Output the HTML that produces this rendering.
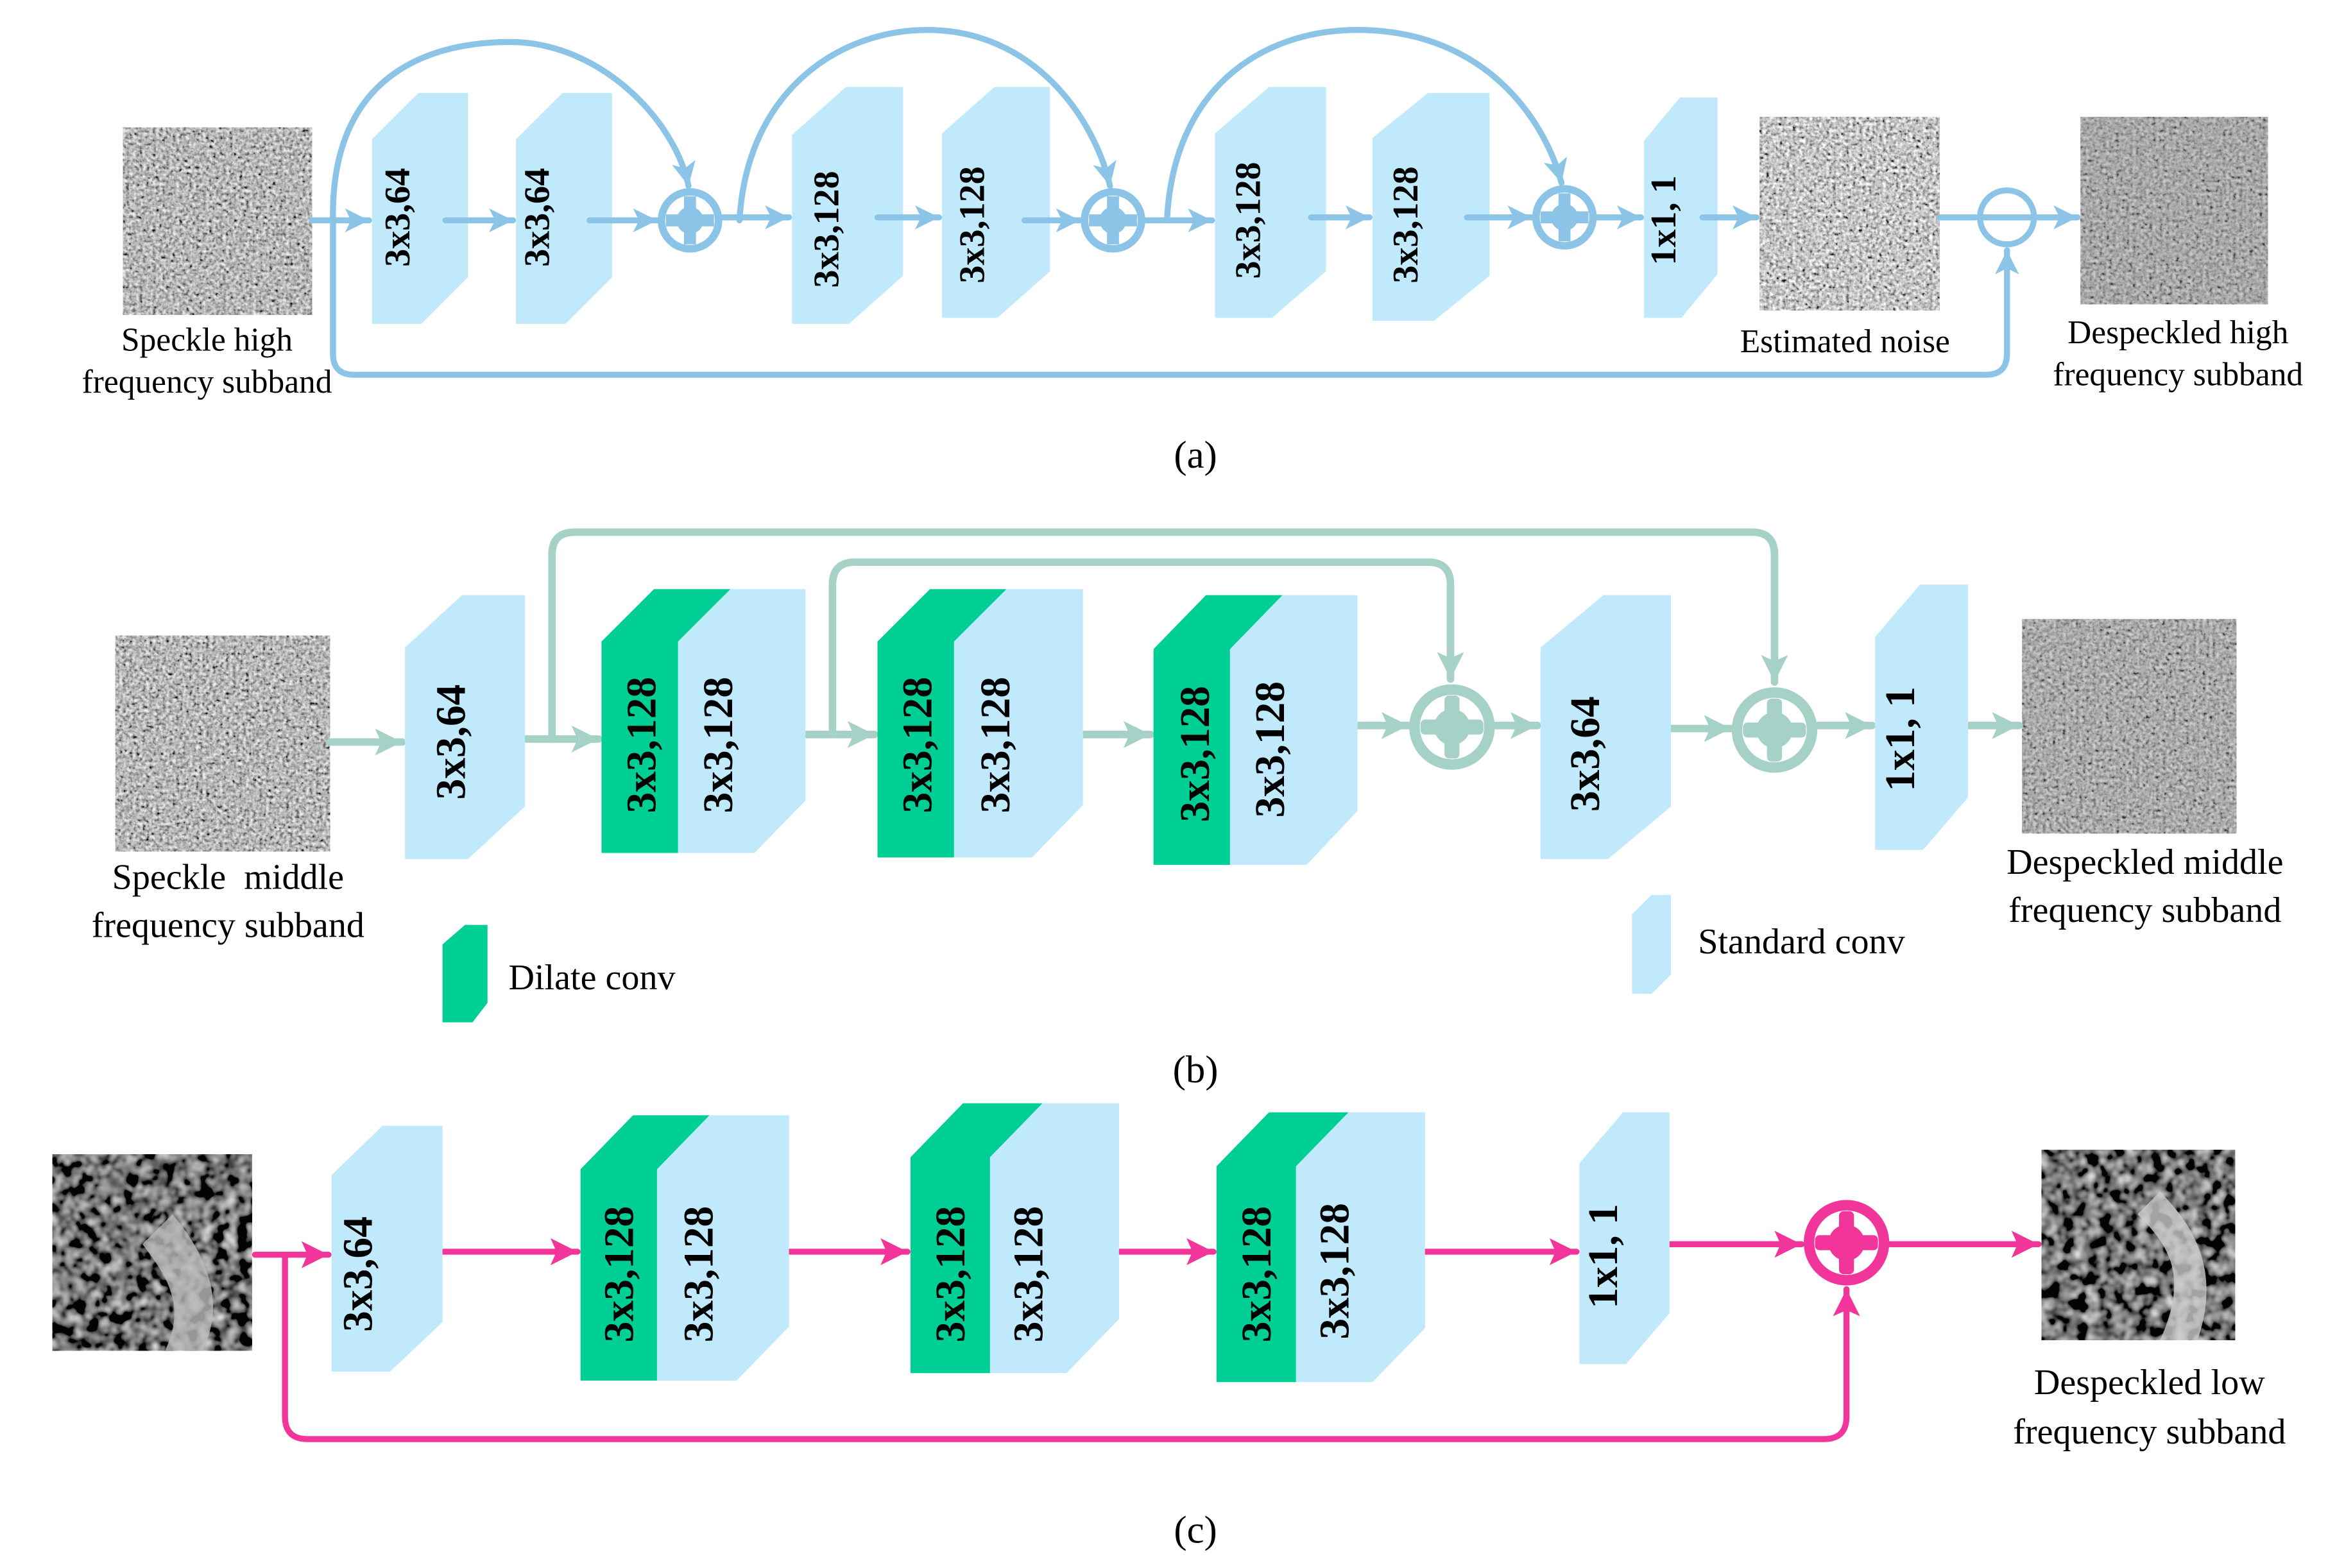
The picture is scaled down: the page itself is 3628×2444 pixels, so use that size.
<!DOCTYPE html>
<html><head><meta charset="utf-8"><style>html,body{margin:0;padding:0;background:#fff}svg{display:block}</style></head><body>
<svg width="3628" height="2444" viewBox="0 0 1552 1046" preserveAspectRatio="none" xmlns="http://www.w3.org/2000/svg">
<defs>
<filter id="ng" x="0" y="0" width="100%" height="100%">
<feTurbulence type="fractalNoise" baseFrequency="0.45" numOctaves="2" seed="3"/>
<feColorMatrix type="matrix" values="0.9 0.9 0.9 0 -0.83  0.9 0.9 0.9 0 -0.83  0.9 0.9 0.9 0 -0.83  0 0 0 0 1"/>
</filter>
<filter id="nd" x="0" y="0" width="100%" height="100%">
<feTurbulence type="fractalNoise" baseFrequency="0.12" numOctaves="2" seed="7"/>
<feColorMatrix type="matrix" values="1.2 1.2 0 0 -1.0  1.2 1.2 0 0 -1.0  1.2 1.2 0 0 -1.0  0 0 0 0 1"/>
</filter>
<marker id="mA" markerUnits="userSpaceOnUse" markerWidth="20" markerHeight="20" refX="16" refY="8" orient="auto"><path d="M0,0 L16,8 L0,16 L4,8 Z" fill="#8BC4E6"/></marker>
<marker id="mB" markerUnits="userSpaceOnUse" markerWidth="22" markerHeight="22" refX="18" refY="9" orient="auto"><path d="M0,0 L18,9 L0,18 L4,9 Z" fill="#A6D1C7"/></marker>
<marker id="mC" markerUnits="userSpaceOnUse" markerWidth="22" markerHeight="22" refX="18" refY="9" orient="auto"><path d="M0,0 L18,9 L0,18 L4,9 Z" fill="#F2359A"/></marker>
</defs>

<g font-family="Liberation Serif, serif">
<!-- (a) -->
<rect x="82" y="85" width="126" height="125" fill="#888"/>
<rect x="82" y="85" width="126" height="125" filter="url(#ng)" opacity="0.85"/>
<rect x="1173" y="78" width="120" height="129" filter="url(#ng)" opacity="0.9"/>
<rect x="1387" y="78" width="125" height="125" fill="#8a8a8a"/>
<rect x="1387" y="78" width="125" height="125" filter="url(#ng)" opacity="0.55"/>

<g fill="#C0EAFB">
<polygon points="248,93 279,62 312,62 312,185 281,216 248,216"/>
<polygon points="344,93 375,62 408,62 408,185 377,216 344,216"/>
<polygon points="528,90 564,58 602,58 602,184 566,216 528,216"/>
<polygon points="628,89 663,58 700,58 700,181 665,212 628,212"/>
<polygon points="810,89 846,58 884,58 884,181 848,212 810,212"/>
<polygon points="915,92 952,62 993,62 993,184 956,214 915,214"/>
<polygon points="1096,94 1120,65 1145,65 1145,183 1121,212 1096,212"/>
</g>
<g font-weight="bold" font-size="24" text-anchor="middle" fill="#000">
<text transform="translate(273,145) rotate(-90)">3x3,64</text>
<text transform="translate(366,145) rotate(-90)">3x3,64</text>
<text transform="translate(559,153) rotate(-90)">3x3,128</text>
<text transform="translate(656,150) rotate(-90)">3x3,128</text>
<text transform="translate(840,147) rotate(-90)">3x3,128</text>
<text transform="translate(945,150) rotate(-90)">3x3,128</text>
<text transform="translate(1117,147) rotate(-90)">1x1, 1</text>
</g>
<g stroke="#8BC4E6" stroke-width="4" fill="none" stroke-linecap="round">
<line x1="208" y1="147" x2="246" y2="147" marker-end="url(#mA)"/>
<line x1="297" y1="147" x2="342" y2="147" marker-end="url(#mA)"/>
<line x1="393" y1="147" x2="438" y2="147" marker-end="url(#mA)"/>
<line x1="481" y1="145" x2="526" y2="145" marker-end="url(#mA)"/>
<line x1="585" y1="145" x2="626" y2="145" marker-end="url(#mA)"/>
<line x1="683" y1="147" x2="720" y2="147" marker-end="url(#mA)"/>
<line x1="764" y1="147" x2="808" y2="147" marker-end="url(#mA)"/>
<line x1="874" y1="145" x2="913" y2="145" marker-end="url(#mA)"/>
<line x1="978" y1="145" x2="1021" y2="145" marker-end="url(#mA)"/>
<line x1="1064" y1="145" x2="1094" y2="145" marker-end="url(#mA)"/>
<line x1="1135" y1="145" x2="1171" y2="145" marker-end="url(#mA)"/>
<line x1="1293" y1="145" x2="1317" y2="145"/>
<line x1="1358" y1="145" x2="1385" y2="145" marker-end="url(#mA)"/>
<path d="M222,147 C220,40 300,28 340,28 C400,28 450,80 459,124" marker-end="url(#mA)"/>
<path d="M493,147 C498,60 560,20 618,20 C690,20 730,80 740,124" marker-end="url(#mA)"/>
<path d="M778,147 C782,60 840,20 905,20 C990,20 1030,80 1041,122" marker-end="url(#mA)"/>
<path d="M222,147 L222,236 Q222,250 236,250 L1324,250 Q1338,250 1338,236 L1338,167" marker-end="url(#mA)"/>
</g>
<g stroke="#8BC4E6" fill="#8BC4E6">
<circle cx="460" cy="147" r="19" stroke-width="5" fill="none"/>
<circle cx="460" cy="147" r="9" stroke="none"/>
<rect x="456" y="131" width="8" height="32" stroke="none"/><rect x="444" y="143" width="32" height="8" stroke="none"/>
<circle cx="742" cy="147" r="19" stroke-width="5" fill="none"/>
<circle cx="742" cy="147" r="9" stroke="none"/>
<rect x="738" y="131" width="8" height="32" stroke="none"/><rect x="726" y="143" width="32" height="8" stroke="none"/>
<circle cx="1043" cy="145" r="19" stroke-width="5" fill="none"/>
<circle cx="1043" cy="145" r="9" stroke="none"/>
<rect x="1039" y="129" width="8" height="32" stroke="none"/><rect x="1027" y="141" width="32" height="8" stroke="none"/>
<circle cx="1338" cy="145" r="18" stroke-width="4" fill="none"/>
<line x1="1320" y1="145" x2="1356" y2="145" stroke-width="4"/>
</g>
<g font-size="22" text-anchor="middle" fill="#000">
<text x="138" y="234">Speckle high</text>
<text x="138" y="262">frequency subband</text>
<text x="1230" y="235">Estimated noise</text>
<text x="1452" y="229">Despeckled high</text>
<text x="1452" y="257">frequency subband</text>
<text x="797" y="312" font-size="26">(a)</text>
</g>

<!-- (b) -->
<rect x="77" y="424" width="143" height="144" fill="#888"/>
<rect x="77" y="424" width="143" height="144" filter="url(#ng)" opacity="0.85"/>
<rect x="1348" y="413" width="143" height="143" fill="#8a8a8a"/>
<rect x="1348" y="413" width="143" height="143" filter="url(#ng)" opacity="0.6"/>
<g stroke="#A6D1C7" stroke-width="5" fill="none" stroke-linecap="round">
<path d="M368,493 L368,370 Q368,355 383,355 L1168,355 Q1183,355 1183,370 L1183,455" marker-end="url(#mB)"/>
<path d="M555,490 L555,390 Q555,375 570,375 L952,375 Q967,375 967,390 L967,453" marker-end="url(#mB)"/>
<line x1="220" y1="495" x2="268" y2="495" marker-end="url(#mB)"/>
<line x1="335" y1="493" x2="399" y2="493" marker-end="url(#mB)"/>
<line x1="518" y1="490" x2="583" y2="490" marker-end="url(#mB)"/>
<line x1="700" y1="490" x2="767" y2="490" marker-end="url(#mB)"/>
<line x1="897" y1="484" x2="939" y2="484" marker-end="url(#mB)"/>
<line x1="995" y1="484" x2="1025" y2="484" marker-end="url(#mB)"/>
<line x1="1096" y1="486" x2="1154" y2="486" marker-end="url(#mB)"/>
<line x1="1212" y1="484" x2="1248" y2="484" marker-end="url(#mB)"/>
<line x1="1276" y1="484" x2="1346" y2="484" marker-end="url(#mB)"/>
</g>
<g fill="#C0EAFB">
<polygon points="270,432 308,397 350,397 350,538 312,573 270,573"/>
<polygon points="1027,432 1069,397 1114,397 1114,538 1072,573 1027,573"/>
<polygon points="1250,425 1280,390 1312,390 1312,532 1282,567 1250,567"/>
<polygon points="452,428 487,393 537,393 537,534 503,569 452,569"/>
<polygon points="636,428 671,393 722,393 722,537 688,572 636,572"/>
<polygon points="820,433 855,397 905,397 905,541 871,577 820,577"/>
<polygon points="1088,610 1101,597 1114,597 1114,650 1101,663 1088,663"/>
</g>
<g fill="#00CF95">
<polygon points="401,428 436,393 487,393 452,428 452,569 401,569"/>
<polygon points="585,428 620,393 671,393 636,428 636,572 585,572"/>
<polygon points="769,433 804,397 855,397 820,433 820,577 769,577"/>
<polygon points="295,630 310,617 325,617 325,669 315,682 295,682"/>
</g>
<g stroke="#A6D1C7" fill="#A6D1C7">
<circle cx="968" cy="485" r="25" stroke-width="7" fill="none"/>
<circle cx="968" cy="485" r="12" stroke="none"/>
<rect x="963" y="464" width="10" height="42" stroke="none" rx="3"/><rect x="947" y="480" width="42" height="10" stroke="none" rx="3"/>
<circle cx="1183" cy="487" r="25" stroke-width="7" fill="none"/>
<circle cx="1183" cy="487" r="12" stroke="none"/>
<rect x="1178" y="466" width="10" height="42" stroke="none" rx="3"/><rect x="1162" y="482" width="42" height="10" stroke="none" rx="3"/>
</g>
<g font-weight="bold" font-size="28" text-anchor="middle" fill="#000">
<text transform="translate(310,495) rotate(-90)">3x3,64</text>
<text transform="translate(437,497) rotate(-90)">3x3,128</text>
<text transform="translate(488,497) rotate(-90)">3x3,128</text>
<text transform="translate(621,497) rotate(-90)">3x3,128</text>
<text transform="translate(673,497) rotate(-90)">3x3,128</text>
<text transform="translate(806,503) rotate(-90)">3x3,128</text>
<text transform="translate(856,500) rotate(-90)">3x3,128</text>
<text transform="translate(1066,503) rotate(-90)">3x3,64</text>
<text transform="translate(1276,493) rotate(-90)">1x1, 1</text>
</g>
<g font-size="24" text-anchor="middle" fill="#000">
<text x="152" y="593" xml:space="preserve">Speckle  middle</text>
<text x="152" y="625">frequency subband</text>
<text x="1430" y="583">Despeckled middle</text>
<text x="1430" y="615">frequency subband</text>
<text x="339" y="660" text-anchor="start">Dilate conv</text>
<text x="1132" y="636" text-anchor="start">Standard conv</text>
<text x="797" y="722" font-size="26">(b)</text>
</g>

<!-- (c) -->
<rect x="35" y="770" width="133" height="131" fill="#222"/>
<rect x="35" y="770" width="133" height="131" filter="url(#nd)" opacity="0.9"/>
<path d="M95,830 C110,850 125,870 110,901 L135,901 C150,870 140,840 115,810 Z" fill="#bbb" opacity="0.8"/>
<rect x="1361" y="767" width="129" height="127" fill="#222"/>
<rect x="1361" y="767" width="129" height="127" filter="url(#nd)" opacity="0.9"/>
<path d="M1425,810 C1445,830 1460,850 1440,894 L1465,894 C1480,850 1465,820 1440,795 Z" fill="#ccc" opacity="0.8"/>
<g stroke="#F2359A" stroke-width="4" fill="none" stroke-linecap="round">
<line x1="170" y1="837" x2="219" y2="837" marker-end="url(#mC)"/>
<line x1="295" y1="835" x2="385" y2="835" marker-end="url(#mC)"/>
<line x1="508" y1="835" x2="605" y2="835" marker-end="url(#mC)"/>
<line x1="724" y1="835" x2="809" y2="835" marker-end="url(#mC)"/>
<line x1="934" y1="835" x2="1051" y2="835" marker-end="url(#mC)"/>
<line x1="1097" y1="830" x2="1201" y2="830" marker-end="url(#mC)"/>
<line x1="1260" y1="830" x2="1359" y2="830" marker-end="url(#mC)"/>
<path d="M190,837 L190,945 Q190,960 205,960 L1216,960 Q1231,960 1231,945 L1231,860" marker-end="url(#mC)"/>
</g>
<g fill="#C0EAFB">
<polygon points="221,784 255,751 295,751 295,882 260,915 221,915"/>
<polygon points="438,780 473,744 526,744 526,885 491,921 438,921"/>
<polygon points="660,772 695,736 746,736 746,880 711,916 660,916"/>
<polygon points="864,778 899,742 950,742 950,886 915,922 864,922"/>
<polygon points="1053,776 1082,742 1113,742 1113,876 1084,910 1053,910"/>
</g>
<g fill="#00CF95">
<polygon points="387,780 422,744 473,744 438,780 438,921 387,921"/>
<polygon points="607,772 642,736 695,736 660,772 660,916 607,916"/>
<polygon points="811,778 846,742 899,742 864,778 864,922 811,922"/>
</g>
<g stroke="#F2359A" fill="#F2359A">
<circle cx="1231" cy="829" r="25" stroke-width="7" fill="none"/>
<circle cx="1231" cy="829" r="12" stroke="none"/>
<rect x="1226" y="808" width="10" height="42" stroke="none" rx="3"/><rect x="1210" y="824" width="42" height="10" stroke="none" rx="3"/>
</g>
<g font-weight="bold" font-size="28" text-anchor="middle" fill="#000">
<text transform="translate(248,850) rotate(-90)">3x3,64</text>
<text transform="translate(422,850) rotate(-90)">3x3,128</text>
<text transform="translate(475,850) rotate(-90)">3x3,128</text>
<text transform="translate(643,850) rotate(-90)">3x3,128</text>
<text transform="translate(695,850) rotate(-90)">3x3,128</text>
<text transform="translate(847,850) rotate(-90)">3x3,128</text>
<text transform="translate(899,848) rotate(-90)">3x3,128</text>
<text transform="translate(1078,838) rotate(-90)">1x1, 1</text>
</g>
<g font-size="24" text-anchor="middle" fill="#000">
<text x="1433" y="930">Despeckled low</text>
<text x="1433" y="963">frequency subband</text>
<text x="797" y="1029" font-size="26">(c)</text>
</g>
</g>
</svg>
</body></html>
